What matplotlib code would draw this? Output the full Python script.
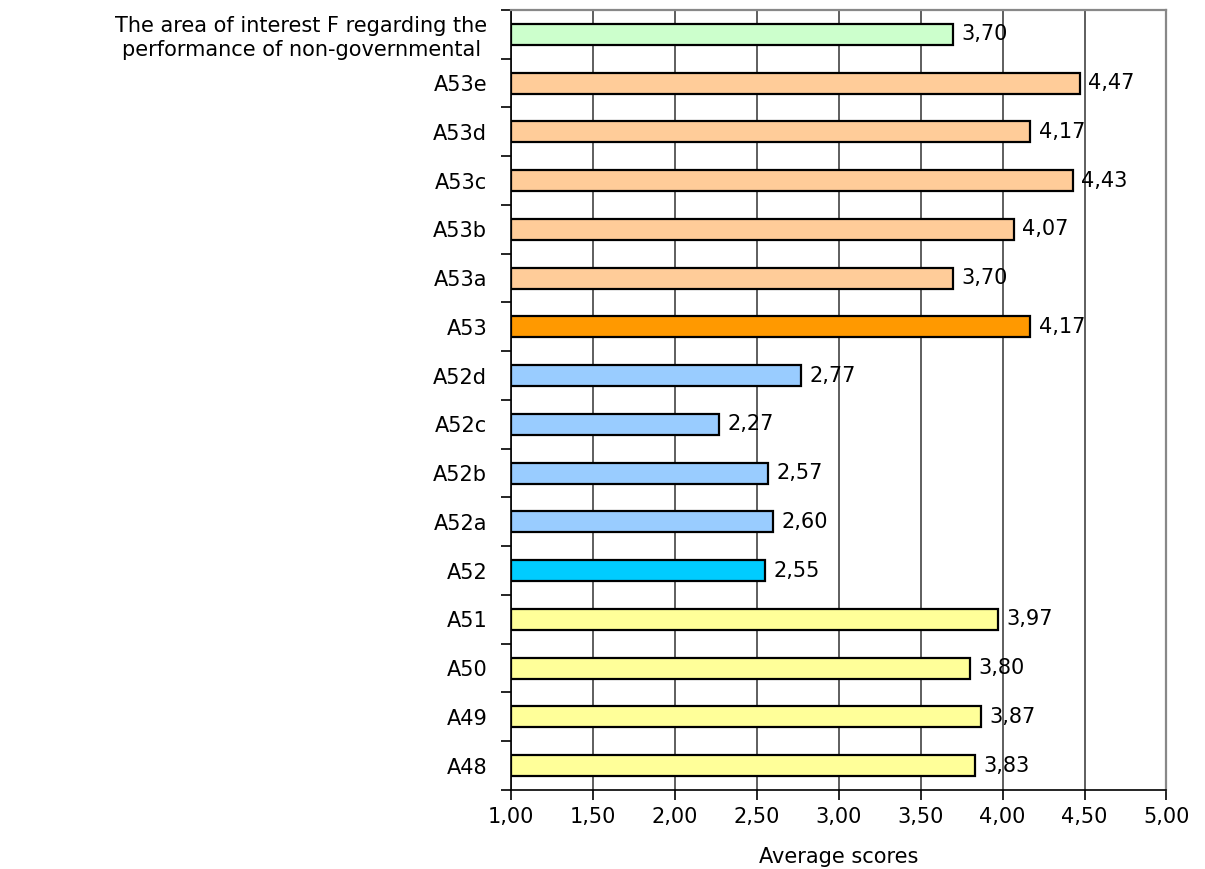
import matplotlib.pyplot as plt
import numpy as np

plt.rcParams['font.family'] = ['DejaVu Sans']

# categories from bottom to top
labels = ['A48', 'A49', 'A50', 'A51', 'A52', 'A52a', 'A52b', 'A52c', 'A52d',
          'A53', 'A53a', 'A53b', 'A53c', 'A53d', 'A53e',
          'The area of interest F regarding the\nperformance of non-governmental']
scores = [3.83, 3.87, 3.80, 3.97, 2.55, 2.60, 2.57, 2.27, 2.77,
          4.17, 3.70, 4.07, 4.43, 4.17, 4.47, 3.70]
colors = ['#FFFF99'] * 4 + ['#00CCFF'] + ['#99CCFF'] * 4 + \
         ['#FF9900'] + ['#FFCC99'] * 5 + ['#CCFFCC']
xticks = [1.0, 1.5, 2.0, 2.5, 3.0, 3.5, 4.0, 4.5, 5.0]

fs = 15

fig = plt.figure(figsize=(12.05, 8.69), dpi=100)
ax = fig.add_axes([0.424, 0.091, 0.544, 0.8975])

y = np.arange(len(labels))
ax.barh(y, [s - 1 for s in scores], left=1, height=0.43, color=colors,
        edgecolor='black', linewidth=1.6, zorder=3)
for yi, s in zip(y, scores):
    ax.annotate(('%.2f' % s).replace('.', ','), (s, yi), xytext=(6, 0),
                textcoords='offset points', va='center', ha='left',
                fontsize=fs, zorder=4)

ax.set_xlim(1, 5)
ax.set_ylim(-0.5, len(labels) - 0.5)
ax.set_xticks(xticks)
ax.set_xticklabels([('%.2f' % v).replace('.', ',') for v in xticks],
                   fontsize=fs)
ax.tick_params(axis='x', direction='out', length=7, width=1.2, pad=5)
ax.set_yticks(y)
ax.set_yticklabels(labels, fontsize=fs, ha='right', multialignment='center')
ax.tick_params(axis='y', length=0, pad=17)
ax.set_yticks(np.arange(-0.5, len(labels)), minor=True)
ax.tick_params(axis='y', which='minor', direction='out', length=7, width=1.2)
ax.set_xlabel('Average scores', fontsize=fs, labelpad=15)

ax.grid(axis='x', color='#333333', linewidth=1.1, zorder=0)
for side in ['top', 'right']:
    ax.spines[side].set_color('#888888')
    ax.spines[side].set_linewidth(1.6)
for side in ['left', 'bottom']:
    ax.spines[side].set_linewidth(1.2)

fig.savefig('out.png', dpi=100)
